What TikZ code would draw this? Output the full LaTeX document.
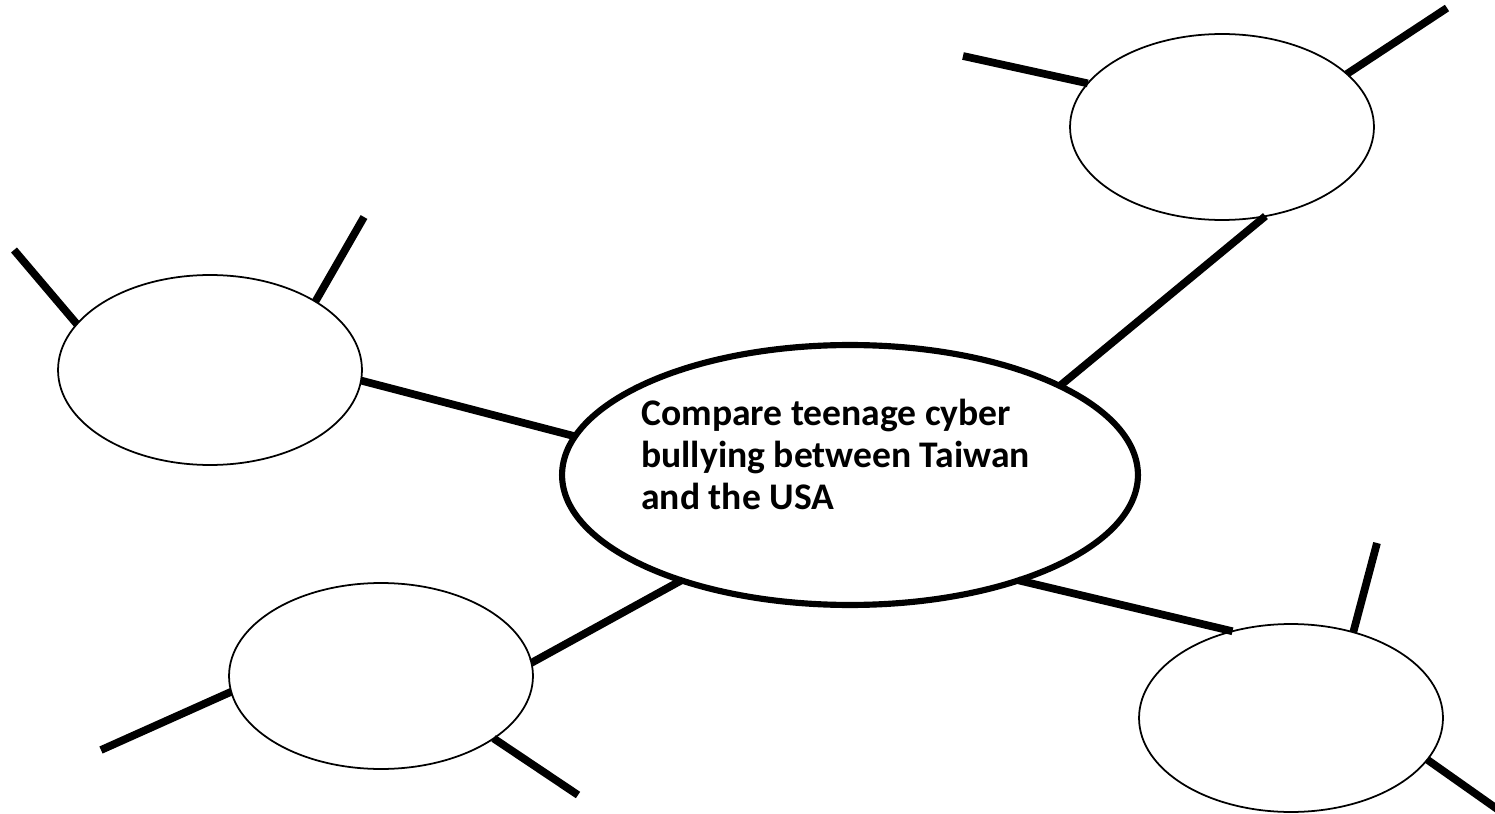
\documentclass[tikz,border=0pt]{standalone}
\usepackage{fontspec}
\setmainfont{Carlito}
\usetikzlibrary{shapes.geometric}
\begin{document}
\begin{tikzpicture}[x=0.02cm,y=-0.02cm,
  bubble/.style={draw,ellipse,line width=1pt,minimum width=6.08cm,minimum height=3.72cm,inner sep=0pt,outer sep=0pt},
  hub/.style={draw,ellipse,line width=3.5pt,minimum width=11.52cm,minimum height=5.2cm,inner sep=0pt,outer sep=0pt},
  spoke/.style={line width=4.4pt}]
\useasboundingbox (0,0) rectangle (1495,814);
\node[hub] (centre) at (850,475) {};
\node[font=\bfseries\fontsize{21.4}{23.9}\selectfont,align=left,anchor=north west,inner sep=0pt] (topic) at (641,399) {Compare teenage cyber\\bullying between Taiwan\\and the USA};
\node[bubble] (tr) at (1222,127) {};
\node[bubble,minimum height=3.8cm] (left) at (210,370) {};
\node[bubble] (bl) at (381,676) {};
\node[bubble,minimum height=3.76cm] (br) at (1291,718) {};
\coordinate (tr-a) at (963,56);
\coordinate (tr-b) at (1447,8);
\coordinate (left-a) at (14,250);
\coordinate (left-b) at (364,217);
\coordinate (bl-a) at (101,750);
\coordinate (bl-b) at (578,795);
\coordinate (br-a) at (1377,543);
\coordinate (br-b) at (1500,811);
\draw[spoke] (centre.23.3) -- (tr.-64);
\draw[spoke] (centre.172.1) -- (left.-4.9);
\draw[spoke] (centre.212.9) -- (bl.5);
\draw[spoke] (centre.-32.9) -- (br.124.3);
\draw[spoke] (tr.162) -- (tr-a);
\draw[spoke] (tr.23) -- (tr-b);
\draw[spoke] (left.161.4) -- (left-a);
\draw[spoke] (left.33.8) -- (left-b);
\draw[spoke] (bl.186) -- (bl-a);
\draw[spoke] (bl.-29.7) -- (bl-b);
\draw[spoke] (br.54.4) -- (br-a);
\draw[spoke] (br.-17.5) -- (br-b);
\end{tikzpicture}
\end{document}
